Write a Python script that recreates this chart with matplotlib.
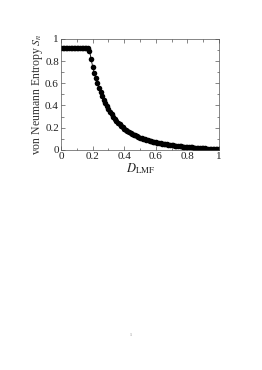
import matplotlib
matplotlib.use("Agg")
import matplotlib.pyplot as plt
from matplotlib.ticker import MultipleLocator

plt.rcParams['font.family'] = ['Liberation Serif', 'DejaVu Serif']
plt.rcParams['mathtext.fontset'] = 'stix'

# D_LMF sampled every 0.01 from 0 to 1
d_lmf = [i / 100 for i in range(101)]
entropy = [0.918] * 18 + [
    0.895, 0.820, 0.750, 0.695, 0.645, 0.600, 0.560, 0.520, 0.485, 0.452,
    0.421, 0.393, 0.367, 0.343, 0.320, 0.299, 0.280, 0.262, 0.246, 0.231,
    0.217, 0.204, 0.192, 0.181, 0.170, 0.160, 0.151, 0.145, 0.137, 0.130,
    0.123, 0.117, 0.111, 0.105, 0.100, 0.095, 0.090, 0.086, 0.082, 0.078,
    0.074, 0.071, 0.068, 0.065, 0.062, 0.059, 0.056, 0.054, 0.051, 0.049,
    0.047, 0.045, 0.043, 0.041, 0.039, 0.037, 0.035, 0.033, 0.032, 0.030,
    0.029, 0.027, 0.026, 0.024, 0.023, 0.022, 0.020, 0.019, 0.018, 0.017,
    0.016, 0.015, 0.014, 0.013, 0.012, 0.011, 0.010, 0.009, 0.008, 0.007,
    0.006, 0.005, 0.004,
]
tick_vals = [0, 0.2, 0.4, 0.6, 0.8, 1]
tick_text = ['0', '0.2', '0.4', '0.6', '0.8', '1']

fig = plt.figure(figsize=(2.62, 3.70), dpi=100)
ax = fig.add_axes([0.233, 0.595, 0.603, 0.300])

ax.plot(d_lmf, entropy, color='black', linewidth=0.6,
        marker='o', markersize=4.0, markeredgewidth=0)

ax.set_xlim(0, 1)
ax.set_ylim(0, 1)
ax.set_xticks(tick_vals)
ax.set_yticks(tick_vals)
ax.set_xticklabels(tick_text)
ax.set_yticklabels(tick_text)
ax.xaxis.set_minor_locator(MultipleLocator(0.1))
ax.yaxis.set_minor_locator(MultipleLocator(0.1))

ax.tick_params(which='both', direction='in', top=True, right=True,
               labelsize=8, pad=1.5, width=0.5, color='#555555',
               labelcolor='#222222')
ax.tick_params(which='major', length=3)
ax.tick_params(which='minor', length=1.8)
for s in ax.spines.values():
    s.set_linewidth(0.5)
    s.set_color('#555555')

ax.set_xlabel(r'$D_{\mathrm{LMF}}$', fontsize=9, labelpad=0, color='#222222')
ax.set_ylabel(r'von Neumann Entropy $S_n$', fontsize=8.5, labelpad=0,
              color='#333333')

fig.text(0.5, 0.095, '1', ha='center', va='center', fontsize=3, color='#777777')

fig.savefig('out.png', dpi=100)
